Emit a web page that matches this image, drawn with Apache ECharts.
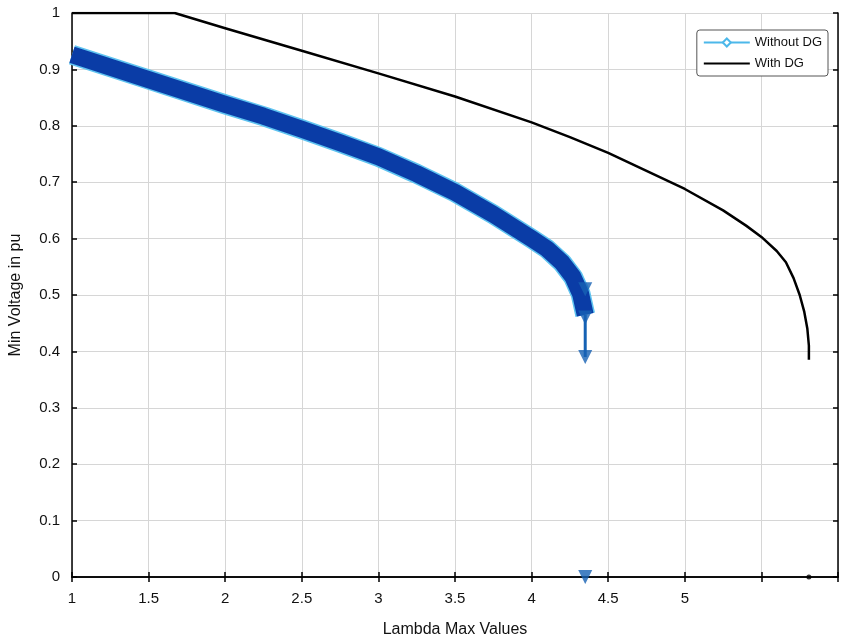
<!DOCTYPE html>
<html>
<head>
<meta charset="utf-8">
<script src="https://cdn.jsdelivr.net/npm/echarts@6/dist/echarts.min.js"></script>
<style>
	html, body { margin: 0; padding: 0; background: #fff; }
	#chart { width: 842px; height: 643px; }
</style>
</head>
<body>
<div id="chart"></div>
<script>
// lambda / min voltage
const withoutDgX = [1, 1.5, 2, 2.25, 2.5, 2.75, 3, 3.25, 3.5, 3.75, 4, 4.1, 4.2, 4.27, 4.32, 4.35];
const withoutDgY = [0.926, 0.882, 0.838, 0.817, 0.794, 0.77, 0.745, 0.715, 0.682, 0.643, 0.6, 0.582, 0.557, 0.532, 0.502, 0.465];
const tailX = [4.35, 4.35];
const tailY = [0.465, 0.39];
const markX = [4.35, 4.35, 4.35, 4.35];
const markY = [0.51, 0.46, 0.39, 0];

const withDgX = [1, 1.67, 2, 2.5, 3, 3.5, 4, 4.25, 4.5, 4.75, 5, 5.25, 5.4, 5.5, 5.6, 5.66, 5.71, 5.75, 5.78, 5.8, 5.81, 5.81];
const withDgY = [1, 1, 0.973, 0.933, 0.893, 0.852, 0.806, 0.78, 0.752, 0.72, 0.688, 0.65, 0.623, 0.603, 0.578, 0.558, 0.53, 0.5, 0.47, 0.44, 0.41, 0.385];
const withDgEndX = [5.81];
const withDgEndY = [0];

const xTickLabels = ['1', '1.5', '2', '2.5', '3', '3.5', '4', '4.5', '5'];

const pairs = (xs, ys) => xs.map((x, i) => [x, ys[i]]);

const myChart = echarts.init(document.getElementById('chart'));

const font = 'Liberation Sans, Arial, sans-serif';
const gridLine = { show: true, lineStyle: { color: '#d6d6d6', width: 1 } };
const blackLine = { show: true, lineStyle: { color: '#000', width: 1.5 } };
const tickIn = { show: true, inside: true, length: 5, lineStyle: { color: '#000', width: 1.5 } };

let option = {
	animation: false,
	grid: { left: 70, right: 4, top: 13, bottom: 63 },
	legend: {
		data: [
			{ name: 'Without DG' },
			{ name: 'With DG', itemStyle: { opacity: 0 } },
		],
		orient: 'vertical',
		right: 14,
		top: 30,
		backgroundColor: '#fff',
		borderColor: '#555',
		borderWidth: 1,
		borderRadius: 3,
		padding: [6, 6, 6, 6],
		itemWidth: 46,
		itemHeight: 10,
		itemGap: 8,
		selectedMode: false,
		textStyle: { fontFamily: font, fontSize: 13, color: '#111' },
	},
	xAxis: [
		{
			type: 'value',
			min: 1,
			max: 6,
			interval: 0.5,
			name: 'Lambda Max Values',
			nameLocation: 'middle',
			nameGap: 45,
			nameTextStyle: { fontFamily: font, fontSize: 16, color: '#111' },
			axisLine: blackLine,
			axisTick: tickIn,
			splitLine: gridLine,
			axisLabel: {
				margin: 14,
				fontFamily: font,
				fontSize: 15,
				color: '#111',
				formatter: (v) => {
					let i = Math.round((v - 1) / 0.5);
					return i < xTickLabels.length ? xTickLabels[i] : '';
				},
			},
		},
		{
			type: 'value',
			position: 'top',
			min: 1,
			max: 6,
			interval: 0.5,
			axisLine: blackLine,
			axisTick: tickIn,
			axisLabel: { show: false },
			splitLine: { show: false },
		},
	],
	yAxis: [
		{
			type: 'value',
			min: 0,
			max: 1,
			interval: 0.1,
			name: 'Min Voltage in pu',
			nameLocation: 'middle',
			nameGap: 48,
			nameTextStyle: { fontFamily: font, fontSize: 16, color: '#111' },
			axisLine: blackLine,
			axisTick: tickIn,
			splitLine: gridLine,
			axisLabel: { margin: 12, fontFamily: font, fontSize: 15, color: '#111' },
		},
		{
			type: 'value',
			position: 'right',
			min: 0,
			max: 1,
			interval: 0.1,
			axisLine: blackLine,
			axisTick: tickIn,
			axisLabel: { show: false },
			splitLine: { show: false },
		},
	],
	series: [
		// legend-only entry
		{
			name: 'Without DG',
			type: 'line',
			data: [],
			color: '#4cb8ea',
			symbol: 'emptyDiamond',
			symbolSize: 11,
			lineStyle: { color: '#4cb8ea', width: 1.5 },
		},
		{
			name: 'band-edge',
			type: 'line',
			data: pairs(withoutDgX, withoutDgY),
			showSymbol: false,
			lineStyle: { color: '#5ec3f0', width: 20, cap: 'butt', join: 'round' },
			z: 3,
		},
		{
			name: 'band',
			type: 'line',
			data: pairs(withoutDgX, withoutDgY),
			showSymbol: false,
			lineStyle: { color: '#0a3ca6', width: 17, cap: 'butt', join: 'round' },
			z: 4,
		},
		{
			name: 'tail',
			type: 'line',
			data: pairs(tailX, tailY),
			showSymbol: false,
			lineStyle: { color: '#1662b4', width: 3 },
			z: 4,
		},
		{
			name: 'marks',
			type: 'scatter',
			data: pairs(markX, markY),
			symbol: 'triangle',
			symbolRotate: 180,
			symbolSize: 14,
			itemStyle: { color: '#1662b4' },
			z: 5,
		},
		{
			name: 'With DG',
			type: 'line',
			data: pairs(withDgX, withDgY),
			color: '#000',
			showSymbol: false,
			lineStyle: { color: '#000', width: 2.5, join: 'round' },
			z: 6,
		},
		{
			name: 'with-end',
			type: 'scatter',
			data: pairs(withDgEndX, withDgEndY),
			symbolSize: 5,
			itemStyle: { color: '#000' },
			z: 6,
		},
	],
};

myChart.setOption(option);
</script>
</body>
</html>
